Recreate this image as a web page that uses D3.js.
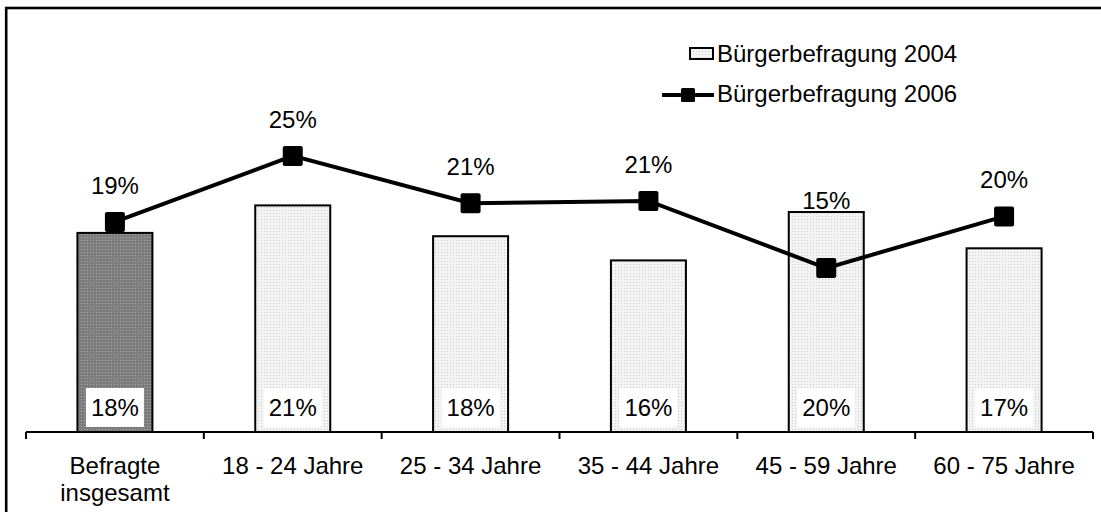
<!DOCTYPE html>
<html>
<head>
<meta charset="utf-8">
<script src="https://cdn.jsdelivr.net/npm/d3@7"></script>
<style>
    body { margin: 0; background: #fff; }
    svg { display: block; font-family: "Liberation Sans", Arial, sans-serif; }
</style>
</head>
<body>
<div id="chartdiv"></div>
<script>
/*global d3 */

var categories = ["Befragte insgesamt", "18 - 24 Jahre", "25 - 34 Jahre",
                  "35 - 44 Jahre", "45 - 59 Jahre", "60 - 75 Jahre"];
var values2004 = [18.1, 20.6, 17.8, 15.6, 20.0, 16.7];
var values2006 = [19.1, 25.1, 20.8, 21.0, 14.9, 19.6];
var seriesNames = ["Bürgerbefragung 2004", "Bürgerbefragung 2006"];

var chart = (function () {
    "use strict";

    var ch; //chart state

    function pct (v) {
        return Math.round(v) + "%";
    }

    function defsAndFrame () {
        var defs = ch.svg.append("defs");
        //dotted fills the way the old spreadsheet printed them
        [["dotlight", "#f3f3f3", "#cdcdcd"],
         ["dotdark", "#7c7c7c", "#a9a9a9"]].forEach(function (p) {
            var pat = defs.append("pattern")
                .attr("id", p[0])
                .attr("patternUnits", "userSpaceOnUse")
                .attr("width", 3).attr("height", 3);
            pat.append("rect").attr("width", 3).attr("height", 3)
                .attr("fill", p[1]);
            pat.append("rect").attr("width", 1).attr("height", 1)
                .attr("fill", p[2]);
        });
        ch.svg.append("rect")
            .attr("x", 6.2).attr("y", 8)
            .attr("width", 1300).attr("height", 800)
            .attr("fill", "none")
            .attr("stroke", "#000")
            .attr("stroke-width", 2.6);
    }

    function drawAxis () {
        var ax = ch.svg.append("g").attr("class", "axis");
        ax.append("line")
            .attr("x1", ch.x.range()[0]).attr("x2", ch.x.range()[1])
            .attr("y1", ch.y(0)).attr("y2", ch.y(0))
            .attr("stroke", "#000").attr("stroke-width", 2);
        //ticks sit between the categories, not under them
        ax.selectAll("line.tick")
            .data(d3.range(categories.length + 1))
            .enter().append("line")
            .attr("class", "tick")
            .attr("x1", function (i) { return ch.x.range()[0] + i * ch.x.step(); })
            .attr("x2", function (i) { return ch.x.range()[0] + i * ch.x.step(); })
            .attr("y1", ch.y(0)).attr("y2", ch.y(0) + 7)
            .attr("stroke", "#000").attr("stroke-width", 2);
        ax.selectAll("text")
            .data(categories)
            .enter().append("text")
            .attr("x", function (d) { return ch.x(d) + ch.x.bandwidth() / 2; })
            .attr("y", ch.y(0) + 42)
            .attr("text-anchor", "middle")
            .attr("font-size", ch.fs)
            .each(function (d) {
                var words = d === "Befragte insgesamt" ? ["Befragte", "insgesamt"] : [d],
                    t = d3.select(this);
                words.forEach(function (w, i) {
                    t.append("tspan")
                        .attr("x", t.attr("x"))
                        .attr("dy", i === 0 ? 0 : 27)
                        .text(w);
                });
            });
    }

    function drawBars () {
        var bw = 75, g = ch.svg.append("g").attr("class", "bars");
        g.selectAll("rect.bar")
            .data(values2004)
            .enter().append("rect")
            .attr("class", "bar")
            .attr("x", function (d, i) { return ch.x(categories[i]) + (ch.x.bandwidth() - bw) / 2; })
            .attr("y", function (d) { return ch.y(d); })
            .attr("width", bw)
            .attr("height", function (d) { return ch.y(0) - ch.y(d); })
            .attr("fill", function (d, i) { return i === 0 ? "url(#dotdark)" : "url(#dotlight)"; })
            .attr("stroke", "#000")
            .attr("stroke-width", 2);
        //value boxes at the foot of each bar
        g.selectAll("rect.lbl")
            .data(values2004)
            .enter().append("rect")
            .attr("class", "lbl")
            .attr("x", function (d, i) { return ch.x(categories[i]) + ch.x.bandwidth() / 2 - 29; })
            .attr("y", ch.y(0) - 44)
            .attr("width", 58).attr("height", 39)
            .attr("fill", "#fff");
        g.selectAll("text")
            .data(values2004)
            .enter().append("text")
            .attr("x", function (d, i) { return ch.x(categories[i]) + ch.x.bandwidth() / 2; })
            .attr("y", ch.y(0) - 16)
            .attr("text-anchor", "middle")
            .attr("font-size", ch.fs)
            .text(pct);
    }

    function drawLine () {
        var g = ch.svg.append("g").attr("class", "line"),
            cx = function (d, i) { return ch.x(categories[i]) + ch.x.bandwidth() / 2; },
            line = d3.line().x(cx).y(function (d) { return ch.y(d); });
        g.append("path")
            .datum(values2006)
            .attr("d", line)
            .attr("fill", "none")
            .attr("stroke", "#000")
            .attr("stroke-width", 4);
        g.selectAll("rect")
            .data(values2006)
            .enter().append("rect")
            .attr("x", function (d, i) { return cx(d, i) - 10; })
            .attr("y", function (d) { return ch.y(d) - 10; })
            .attr("width", 20).attr("height", 20)
            .attr("rx", 2)
            .attr("fill", "#000");
        g.selectAll("text")
            .data(values2006)
            .enter().append("text")
            .attr("x", cx)
            .attr("y", function (d, i) {
                //when the point dips under its bar, the label goes on the bar top
                if(d < values2004[i]) {
                    return ch.y(values2004[i]) - 3; }
                return ch.y(d) - 28; })
            .attr("text-anchor", "middle")
            .attr("font-size", ch.fs)
            .text(pct);
    }

    function drawLegend () {
        var g = ch.svg.append("g").attr("class", "legend"),
            kx = 662, kw = 52;  //line key; the bar swatch hugs its right half
        g.append("rect")
            .attr("x", 690).attr("y", 48)
            .attr("width", 23).attr("height", 11)
            .attr("fill", "url(#dotlight)")
            .attr("stroke", "#000").attr("stroke-width", 2);
        g.append("line")
            .attr("x1", kx).attr("x2", kx + kw)
            .attr("y1", 95).attr("y2", 95)
            .attr("stroke", "#000").attr("stroke-width", 4);
        g.append("rect")
            .attr("x", kx + kw / 2 - 7).attr("y", 88)
            .attr("width", 14).attr("height", 14)
            .attr("rx", 1.5)
            .attr("fill", "#000");
        g.selectAll("text")
            .data(seriesNames)
            .enter().append("text")
            .attr("x", 717)
            .attr("y", function (d, i) { return 62 + i * 40; })
            .attr("font-size", ch.fs)
            .text(function (d) { return d; });
    }

    function display () {
        ch = {width: 1101, height: 512, fs: 24};
        ch.svg = d3.select("#chartdiv").append("svg")
            .attr("width", ch.width)
            .attr("height", ch.height);
        ch.x = d3.scaleBand().domain(categories).range([26, 1093]).padding(0);
        ch.y = d3.scaleLinear().domain([0, 36]).range([432, 36]);
        defsAndFrame();
        drawBars();
        drawAxis();
        drawLine();
        drawLegend();
    }

    return {
        display: function () { display(); }
    };
}());

chart.display();
</script>
</body>
</html>
